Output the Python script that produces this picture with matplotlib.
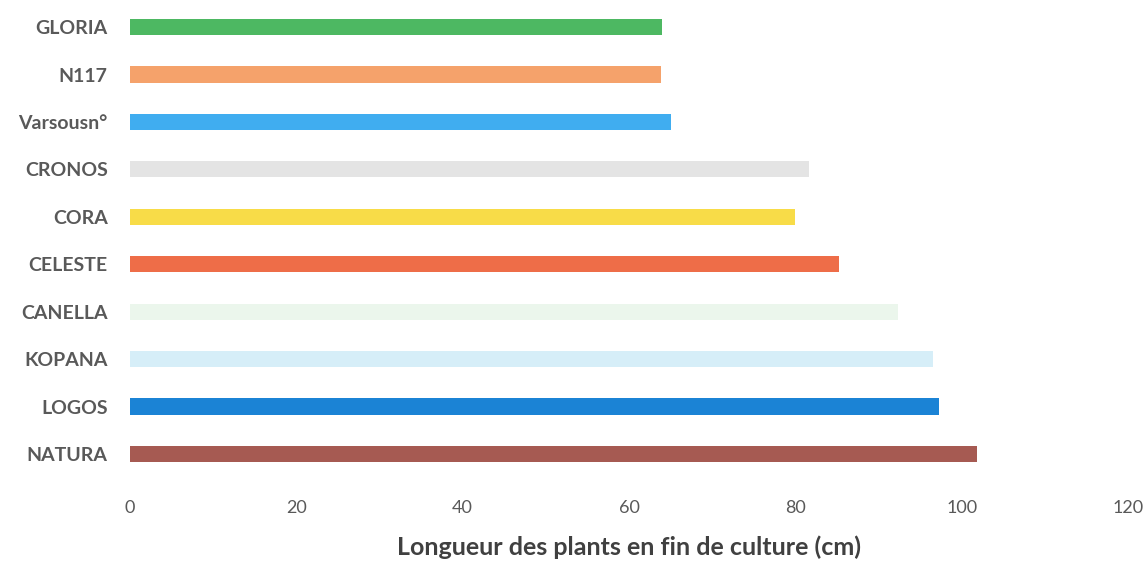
import matplotlib
matplotlib.use("Agg")
import matplotlib.pyplot as plt

categories = ["NATURA", "LOGOS", "KOPANA", "CANELLA", "CELESTE",
              "CORA", "CRONOS", "Varsousn°", "N117", "GLORIA"]
values = [101.8, 97.3, 96.6, 92.4, 85.2, 79.9, 81.7, 65.1, 63.9, 64.0]
colors = ["#A65A52", "#1B83D5", "#D6EEF8", "#EBF6EC", "#EE6D48",
          "#F8DC48", "#E4E4E4", "#40ADF0", "#F5A26B", "#4DB862"]
xticks = [0, 20, 40, 60, 80, 100, 120]
xlabel = "Longueur des plants en fin de culture (cm)"

plt.rcParams['font.family'] = ['Lato', 'DejaVu Sans']

fig = plt.figure(figsize=(11.48, 5.62), dpi=100)
ax = fig.add_axes([0.1132, 0.150, 0.8694, 0.844])
y = list(range(len(categories)))
ax.barh(y, values, height=0.34, color=colors)
ax.set_xlim(0, 120)
ax.set_ylim(-0.5, len(categories) - 0.5)
ax.set_yticks(y)
ax.set_yticklabels(categories, fontsize=14, fontweight='bold', color='#595959')
ax.set_xticks(xticks)
ax.set_xticklabels([str(t) for t in xticks], fontsize=13, color='#595959')
ax.tick_params(axis='both', length=0)
ax.tick_params(axis='x', pad=16)
ax.tick_params(axis='y', pad=16)
for s in ax.spines.values():
    s.set_visible(False)
ax.set_xlabel(xlabel, fontsize=18, fontweight='bold', color='#404040', labelpad=14)
fig.savefig("out.png", dpi=100)
